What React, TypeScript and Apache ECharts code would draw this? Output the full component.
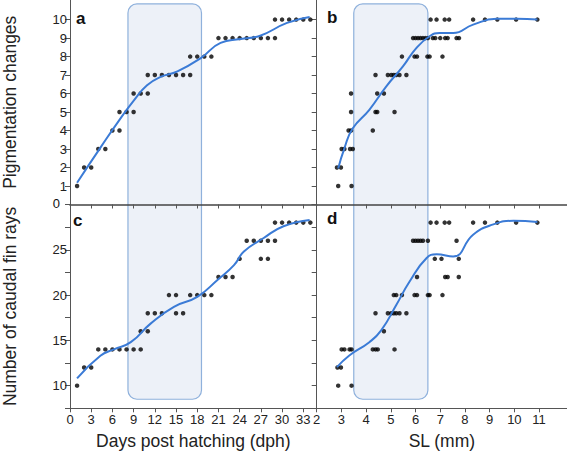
import React, { useEffect, useRef } from "react";
import * as echarts from "echarts";

// ---- tick values ----
const dayTicks = [0, 3, 6, 9, 12, 15, 18, 21, 24, 27, 30, 33];
const slTicks = [2, 3, 4, 5, 6, 7, 8, 9, 10, 11];
const pigTicks = [0, 1, 2, 3, 4, 5, 6, 7, 8, 9, 10];
const pigLabels = [1, 2, 3, 4, 5, 6, 7, 8, 9, 10];
const pigZeroLabel = "0";
const finTicks = [7.5, 10, 12.5, 15, 17.5, 20, 22.5, 25, 27.5, 30];
const finLabels = [10, 15, 20, 25];

// ---- panel a: pigmentation vs dph ----
const pigDph: number[][] = [
  [1, 1], [2, 2], [3, 2], [4, 3], [5, 3], [6, 4], [7, 4], [7, 5], [8, 5], [9, 5], [9, 6],
  [10, 6], [11, 6], [11, 7], [12, 7], [13, 7], [14, 7], [15, 7], [16, 7], [17, 7], [17, 8],
  [18, 8], [19, 8], [20, 8], [21, 9], [22, 9], [23, 9], [24, 9], [25, 9], [26, 9], [27, 9],
  [28, 9], [29, 9], [29, 10], [30, 10], [31, 10], [32, 10], [33, 10], [34, 10],
];
const pigDphFit: number[][] = [
  [1, 1.18], [4.4, 3.13], [7, 4.58], [9.1, 5.66], [10.9, 6.45], [12.8, 6.9], [15.2, 7.2],
  [18.5, 7.92], [21.3, 8.74], [24.1, 8.95], [26.9, 9.13], [30.7, 9.82], [33.9, 10.14],
];

// ---- panel b: pigmentation vs SL ----
const pigSL: number[][] = [
  [2.87, 1], [3.41, 1], [2.82, 2], [2.98, 2], [3.01, 3], [3.12, 3], [3.35, 3], [3.46, 3],
  [3.29, 4], [3.39, 4], [4.27, 4], [3.39, 5], [4.38, 5], [4.45, 5], [5.15, 5], [3.39, 6],
  [4.45, 6], [4.72, 6], [4.38, 7], [4.88, 7], [5.02, 7], [5.12, 7], [5.22, 7], [5.35, 7],
  [5.63, 7], [5.45, 8], [5.96, 8], [6.06, 8], [6.48, 8], [6.57, 8], [7.09, 8], [5.9, 9],
  [6.0, 9], [6.1, 9], [6.2, 9], [6.3, 9], [6.4, 9], [6.5, 9], [6.7, 9], [6.8, 9], [7.0, 9],
  [7.2, 9], [7.3, 9], [7.66, 9], [7.76, 9], [6.61, 10], [6.85, 10], [7.18, 10], [7.36, 10],
  [8.33, 10], [8.81, 10], [9.31, 10], [10.07, 10], [10.93, 10],
];
const pigSLFit: number[][] = [
  [2.87, 1.95], [3.12, 3.04], [3.46, 4.12], [4.13, 5.12], [4.81, 6.38], [5.49, 7.47],
  [6.03, 8.46], [6.57, 9.1], [6.97, 9.28], [7.52, 9.28], [8.33, 9.73], [9.28, 10.04],
  [10.1, 10.05], [10.93, 10],
];

// ---- panel c: caudal fin rays vs dph ----
const finDph: number[][] = [
  [1, 10], [2, 12], [3, 12], [4, 14], [5, 14], [6, 14], [7, 14], [8, 14], [9, 14], [10, 14],
  [10, 16], [11, 16], [11, 18], [12, 18], [13, 18], [14, 20], [15, 20], [15, 18], [16, 18],
  [17, 20], [18, 20], [19, 20], [20, 20], [21, 22], [22, 22], [23, 22], [24, 24], [25, 26],
  [26, 26], [27, 26], [28, 26], [27, 24], [28, 24], [29, 26], [29, 28], [30, 28], [31, 28],
  [32, 28], [33, 28], [34, 28],
];
const finDphFit: number[][] = [
  [1, 10.8], [4.3, 13.3], [6.2, 14], [8.6, 14.8], [11.4, 16.85], [14.7, 18.7], [18, 19.8],
  [20.9, 21.7], [23.2, 23.3], [24.6, 24.8], [27.4, 26.3], [30.2, 27.6], [33.9, 28.3],
];

// ---- panel d: caudal fin rays vs SL ----
const finSL: number[][] = [
  [2.87, 10], [3.41, 10], [2.84, 12], [2.98, 12], [3.01, 14], [3.12, 14], [3.33, 14],
  [3.41, 14], [4.27, 14], [4.38, 14], [4.47, 14], [5.15, 14], [4.72, 16], [4.38, 18],
  [4.88, 18], [5.02, 18], [5.12, 18], [5.22, 18], [5.35, 18], [5.63, 18], [5.12, 20],
  [5.22, 20], [5.45, 20], [5.96, 20], [6.06, 20], [6.5, 20], [6.57, 20], [7.09, 20],
  [6.06, 22], [7.2, 22], [7.3, 22], [7.75, 22], [6.78, 24], [7.05, 24], [7.75, 24],
  [5.9, 26], [6.0, 26], [6.1, 26], [6.2, 26], [6.3, 26], [6.5, 26], [7.66, 26], [6.61, 28],
  [6.85, 28], [7.18, 28], [7.36, 28], [8.33, 28], [8.81, 28], [9.31, 28], [10.07, 28],
  [10.93, 28],
];
const finSLFit: number[][] = [
  [2.82, 12.04], [3.32, 13.33], [4.13, 14.8], [4.61, 16.1], [5.22, 18.9], [5.76, 21.5],
  [6.44, 24.07], [6.85, 24.5], [7.52, 24.26], [8.33, 26.67], [9.15, 27.8], [9.96, 28.2],
  [10.93, 28.07],
];

// ---- shaded windows ----
const shadeDays = [8.2, 18.6];
const shadeSL = [3.5, 6.5];
const shadeTopPig = 10.85;
const shadeBottomFin = 8.5;

const FONT = "Liberation Sans";
const AXIS_COLOR = "#555";
const LINE_COLOR = "#3b7bd6";

export default function App() {
  const ref = useRef<HTMLDivElement>(null);

  useEffect(() => {
    if (!ref.current) return;
    const chart = echarts.init(ref.current, null, { renderer: "svg" });

    const L = 68.7, MID = 316.7, TOP = 0, HMID = 204.5, BOT = 408.3, W = 567;
    const grids = [
      { left: L, top: TOP, width: MID - L, height: HMID - TOP },
      { left: MID, top: TOP, width: W - MID, height: HMID - TOP },
      { left: L, top: HMID, width: MID - L, height: BOT - HMID },
      { left: MID, top: HMID, width: W - MID, height: BOT - HMID },
    ];

    const xBase = (i: number, isDay: boolean, showLabels: boolean, name: string) => ({
      type: "value",
      gridIndex: i,
      min: isDay ? 0 : 2,
      max: isDay ? 34.9 : 12.13,
      interval: isDay ? 3 : 1,
      name,
      nameLocation: "middle",
      nameGap: 24,
      nameTextStyle: { fontFamily: FONT, fontSize: 17.5, color: "#222" },
      splitLine: { show: false },
      axisLine: { show: true, onZero: false, lineStyle: { color: i < 2 ? "#444" : AXIS_COLOR, width: i < 2 ? 1.6 : 1 } },
      axisTick: { show: true, inside: false, length: 4, lineStyle: { color: AXIS_COLOR }, customValues: isDay ? dayTicks : slTicks },
      axisLabel: {
        show: showLabels,
        customValues: isDay ? dayTicks : slTicks,
        fontFamily: FONT,
        fontSize: 13,
        color: "#222",
        margin: 5,
      },
    });

    const yBase = (i: number, isPig: boolean, showLabels: boolean, name: string) => ({
      type: "value",
      gridIndex: i,
      min: isPig ? 0 : 7.5,
      max: isPig ? 11.06 : 30,
      interval: isPig ? 1 : 2.5,
      name,
      nameLocation: "middle",
      nameGap: 51,
      nameTextStyle: { fontFamily: FONT, fontSize: 17.5, color: "#222" },
      splitLine: { show: false },
      axisLine: { show: true, onZero: false, lineStyle: { color: AXIS_COLOR } },
      axisTick: { show: true, inside: false, length: 5, lineStyle: { color: AXIS_COLOR }, customValues: isPig ? pigTicks : finTicks },
      axisLabel: {
        show: showLabels,
        customValues: isPig ? pigLabels : finLabels,
        fontFamily: FONT,
        fontSize: 13,
        color: "#222",
        margin: 3,
      },
    });

    const scatter = (i: number, data: number[][]) => ({
      type: "scatter",
      xAxisIndex: i,
      yAxisIndex: i,
      data,
      symbolSize: 4.5,
      itemStyle: { color: "#000" },
      z: 3,
    });
    const fit = (i: number, data: number[][]) => ({
      type: "line",
      xAxisIndex: i,
      yAxisIndex: i,
      data,
      smooth: 0.5,
      showSymbol: false,
      lineStyle: { color: LINE_COLOR, width: 2 },
      z: 4,
    });

    chart.setOption({
      animation: false,
      grid: grids,
      xAxis: [
        xBase(0, true, false, ""),
        xBase(1, false, false, ""),
        xBase(2, true, true, "Days post hatching (dph)"),
        xBase(3, false, true, "SL (mm)"),
      ],
      yAxis: [
        yBase(0, true, true, "Pigmentation changes"),
        yBase(1, true, false, ""),
        yBase(2, false, true, "Number of caudal fin rays"),
        yBase(3, false, false, ""),
      ],
      series: [
        scatter(0, pigDph), fit(0, pigDphFit),
        scatter(1, pigSL), fit(1, pigSLFit),
        scatter(2, finDph), fit(2, finDphFit),
        scatter(3, finSL), fit(3, finSLFit),
      ],
    });

    const px = (grid: number, p: number[]) => chart.convertToPixel({ gridIndex: grid }, p) as number[];
    const rectFor = (topGrid: number, botGrid: number, range: number[]) => {
      const a = px(topGrid, [range[0], shadeTopPig]);
      const b = px(botGrid, [range[1], shadeBottomFin]);
      return {
        type: "rect",
        shape: { x: a[0], y: a[1], width: b[0] - a[0], height: b[1] - a[1], r: 9 },
        style: { fill: "#edf1f8", stroke: "#8fb1dc", lineWidth: 1.2 },
        z: 0,
      };
    };
    const label = (text: string, left: number, top: number, size = 17, weight = "bold") => ({
      type: "text",
      left,
      top,
      style: { text, fontFamily: FONT, fontSize: size, fontWeight: weight, fill: "#111" },
      z: 5,
    });

    chart.setOption({
      graphic: [
        rectFor(0, 2, shadeDays),
        rectFor(1, 3, shadeSL),
        label("a", 76, 10),
        label("b", 327, 9),
        label("c", 73, 212),
        label("d", 327, 210),
        label(pigZeroLabel, L - 16, HMID - 7.5, 13, "normal"),
      ],
    });

    return () => chart.dispose();
  }, []);

  return (
    <div
      ref={ref}
      style={{ position: "absolute", left: 0, top: 0, width: 567, height: 453, background: "#fff" }}
    />
  );
}
